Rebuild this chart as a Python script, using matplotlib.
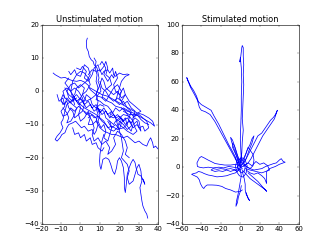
import matplotlib
matplotlib.use('Agg')
import matplotlib.pyplot as plt

# unstimulated cell tracks (x, y)
u1 = [(3.5, 16), (3, 15), (3.2, 13), (4, 12), (4.5, 10.5), (5.5, 9.5), (6.5, 9), (7, 8), (8.5, 7),
      (9, 5.5), (9.5, 4), (9, 3), (10, 1.5), (10.5, 0), (9, -1), (8, -2.5), (10, -3), (12, -4),
      (14, -4.5), (16, -6), (15, -7.5), (17, -8), (19, -7), (21, -8.5), (20, -10), (22, -11),
      (24, -10), (25, -8), (23, -6), (21, -5)]
u2 = [(-14, 5.5), (-13, 5), (-11.5, 4.5), (-10, 4), (-8, 4.2), (-6, 3.6), (-4, 3.2), (-2, 3),
      (0, 3.3), (2, 2.8), (4, 1.8), (5, 0.5), (7, -0.5), (9, -1.5), (12, -2), (14, -3), (16, -3.5),
      (18, -4.5), (21, -5), (24, -6), (27, -6.5), (30, -7.5), (33, -8.5), (36, -9.5), (38, -10.5),
      (37, -9), (35, -8), (32, -7), (29, -6.5), (26, -5.5), (23, -4.5), (20, -3.5), (17, -2.5),
      (14, -1.5), (11, -1), (8, 0), (5, 1)]
u3 = [(4, 5), (6, 6.5), (8, 6), (10, 6.5), (11, 5), (12, 6), (14, 6.5), (15, 5.5), (16.5, 7),
      (17, 5), (18, 4.5), (20, 5.5), (22, 5), (24, 5.2), (25, 5), (23, 4.5), (21, 3), (20, 1),
      (19, -1), (18, -3), (20, -4), (22, -3), (24, -5), (26, -6), (25, -8)]
u4 = [(-3, -2), (-5, -3), (-7, -4), (-8, -6), (-9, -8.5), (-10, -9.5), (-9, -11), (-10.5, -12.5),
      (-12, -13.5), (-13, -14.5), (-12, -15), (-10.5, -14), (-9.5, -13), (-8, -12.5), (-7, -11),
      (-6, -10), (-4, -9.5), (-2.5, -9), (-1, -10), (0.5, -11), (2, -10.5), (4, -12), (6, -11.5),
      (7, -13), (8, -12), (9, -10), (8, -8), (6, -7), (4, -8)]
u5 = [(8, -9), (10, -11), (12, -12), (14, -12.5), (16, -13), (18, -13), (20, -13.5), (22, -14),
      (24, -13.5), (26, -14.5), (28, -15.5), (30, -15), (32, -16), (34, -16.5), (35, -15),
      (36, -14), (37, -15.5), (37.5, -17), (38.5, -16.5), (40, -17.5)]
u6 = [(18, -8), (19, -10), (20, -12), (21, -14), (21.5, -16), (22, -18), (21, -20), (22.5, -21),
      (24, -22), (25, -24), (24, -26), (25, -28), (27, -27), (28, -25), (29, -23), (30, -22),
      (31, -24), (31.5, -27), (30.5, -29), (31, -31), (31.5, -33), (32, -34.5), (33, -36),
      (34, -37), (34.5, -38.2)]
u7 = [(12, -13), (11, -15), (10.5, -17), (10, -19), (9.8, -21), (10, -22.5), (10.5, -23.5),
      (11, -22), (11.5, -20.5), (13, -20), (14.5, -20.5), (15.5, -22), (16.5, -24), (17.5, -25),
      (18.5, -23), (19, -21), (20, -20), (21, -21), (22, -23), (22.5, -26), (22.5, -29),
      (23, -30.5), (23.5, -28), (24, -25), (25, -23), (26, -21.5), (27, -20.5), (28, -21.5),
      (28.5, -23), (29.5, -25), (31, -25.5), (32.5, -27), (33, -28), (32, -26.5)]
u8 = [(-8, 1), (-6, -1), (-4, -2), (-2, -1), (0, -2.5), (2, -3), (3, -1), (5, -2), (6, -4),
      (8, -5), (10, -5.5), (12, -6), (13, -8), (15, -9), (17, -10), (18, -9), (20, -8), (22, -7),
      (25, -7.5), (27, -9), (28, -11), (29, -12), (27, -13), (24, -12), (22, -11), (19, -11.5),
      (16, -10.5), (14, -11), (12, -9), (10, -8), (8, -7), (5, -6), (2, -5), (0, -4), (-2, -3),
      (-4, -1), (-6, 1), (-8, 2.5), (-6, 4)]
u9 = [(-3, -4), (-5, 0), (-4, 3), (-2, 5), (0, 6), (2, 5.5), (4, 4), (5, 2), (3, 0), (1, -1),
      (3, -3), (6, -2), (8, -1), (10, 2), (11, 4), (12, 3), (13, 1), (15, 0), (17, -1), (19, 0),
      (21, -2), (23, -1), (25, -3), (27, -4), (29, -5), (31, -6), (28, -7), (25, -7), (22, -6)]
u10 = [(2, -6), (4, -7), (6, -9), (7, -11), (6, -13), (7, -15), (9, -14), (11, -16), (13, -15),
       (15, -17), (14, -19), (16, -18), (18, -16), (17, -14), (19, -12), (21, -13), (23, -15),
       (24, -17), (23, -19), (25, -20)]
u11 = [(-8, -2), (-9, -1), (-10, -2.5), (-9, -4), (-7, -3), (-6, -5), (-4, -6), (-3, -8),
       (-1, -7), (0, -5), (-1, -3), (1, -1), (2, 1), (0, 2), (-2, 1), (-3, -1)]
u12 = [(-10, -3), (-8, -4), (-7, -2), (-5, -3.5), (-3, -2), (-1, -4), (1, -3), (3, -5), (5, -4),
       (7, -6), (9, -5), (11, -7), (13, -6), (15, -8), (17, -7), (19, -9), (21, -8), (23, -10),
       (25, -9), (27, -11), (29, -10), (31, -12), (30, -9), (28, -8), (26, -9.5), (24, -8),
       (22, -9), (20, -7.5), (18, -8), (16, -6), (14, -7), (12, -5), (10, -6.5), (8, -4), (6, -5),
       (4, -3), (2, -4), (0, -2), (-2, -3), (-4, -1)]
u13 = [(-2, 7), (0, 6.5), (1, 7.5), (3, 6), (2, 4), (4, 3), (6, 5), (7, 7), (9, 8), (10, 6),
       (12, 7.5), (13, 9), (14, 7), (13, 5), (15, 4), (16, 2), (14, 1), (12, 0), (11, -2), (13, -3),
       (15, -1), (17, 1), (19, 2), (21, 0), (20, -2), (22, -4), (24, -3), (26, -5), (28, -6),
       (27, -8)]
u14 = [(-9, -5), (-7, -6.5), (-6, -8), (-7, -9.5), (-5, -9), (-3, -7), (-2, -5), (-4, -4),
       (-6, -3), (-8, -2), (-9, 0), (-7, 1), (-5, 0), (-3, 1), (-1, 0), (1, -2), (2, -4), (1, -6),
       (-1, -7), (0, -9), (2, -8), (4, -6), (5, -8), (4, -10), (6, -10), (8, -9), (9, -7), (8, -5),
       (10, -4), (12, -4.5)]
u15 = [(14, -9), (16, -11), (18, -10), (20, -11.5), (21, -9.5), (23, -8), (24, -10.5), (26, -12),
       (27, -10), (29, -9), (30, -11), (32, -10.5), (33, -12), (35, -11), (34, -9), (32, -8),
       (30, -7), (27, -7.5), (25, -6), (22, -5), (20, -6), (18, -5), (16, -7)]
u16 = [(7, 10), (8, 9), (7.5, 7), (8.5, 5), (8, 3), (9, 1), (8, -1), (9, -3), (8.5, -5), (10, -7),
       (9, -9), (10.5, -11), (12, -10), (13, -12), (12, -14), (14, -15), (15, -13), (16, -11),
       (15, -9)]
u17 = [(-6, 6), (-5, 5), (-3, 6.5), (-2, 5), (0, 4.5), (1, 6), (2, 8), (4, 7), (5, 5), (3, 3),
       (1, 2), (-1, 1), (-3, 2.5), (-5, 2), (-7, 0), (-6, -2), (-4, -3), (-2, -2)]
u18 = [(-12, -1), (-11, -3), (-9, -2), (-8, -4.5), (-10, -6), (-9, -7.5), (-7, -7), (-5, -5),
       (-3, -6), (-1, -4.5), (1, -5.5), (3, -7), (5, -6.5), (7, -8), (9, -7.5), (11, -9), (13, -10),
       (15, -11.5), (17, -12), (19, -11), (20, -9), (22, -10), (24, -11.5), (26, -10.5), (27, -8),
       (29, -7), (31, -8.5), (33, -9.5), (35, -10)]
u19 = [(-4, -11), (-3, -13), (-1, -12.5), (0, -14), (2, -13), (3, -15), (5, -14), (6, -16),
       (8, -15.5), (9, -17), (11, -18), (12, -17)]
u20 = [(10, 8), (11, 9), (13, 7), (12, 5), (14, 3), (16, 5), (17, 4), (18, 6), (19, 4), (17, 2),
       (18, 0), (20, -1), (22, 1), (23, -1), (21, -3), (19, -2), (17, -3), (15, -2), (13, 0),
       (11, 1), (10, 3)]

# stimulated cell tracks
s1 = [(0, 0), (1, 5), (0.5, 12), (0, 20), (0.5, 30), (1, 40), (1, 50), (1.5, 60), (1, 70),
      (0, 77), (-0.5, 74), (0.5, 78), (1, 81), (1.5, 84), (2, 85.5), (3, 84), (3, 78), (3.5, 72),
      (3, 65), (3.5, 58), (3, 50), (2.5, 42), (2, 34), (3, 26), (2, 18), (1.5, 10), (0, 3)]
s2 = [(0, 0), (-3, 3), (-5, 7), (-8, 11), (-12, 16), (-17, 23), (-22, 30), (-27, 36), (-30, 40),
      (-35, 42), (-40, 44), (-43, 46), (-45, 50), (-48, 54), (-51, 57), (-53, 60), (-55, 63),
      (-54, 61), (-51, 56), (-47, 51), (-44, 47), (-42, 42), (-40, 40), (-36, 39), (-31, 37),
      (-26, 32), (-22, 27), (-18, 22), (-14, 17), (-10, 12), (-6, 7), (-3, 3)]
s3 = [(0, 0), (3, 3), (6, 6), (9, 10), (12, 14), (15, 18), (18, 22), (22, 24), (25, 27), (28, 30),
      (31, 33), (34, 35), (36, 37), (38, 40), (37, 38), (35, 34), (32, 31), (29, 28), (26, 25),
      (23, 22), (20, 18), (17, 14), (14, 10), (11, 6), (8, 3), (4, 1)]
s4 = [(0, 1), (-5, 2), (-10, 1.5), (-16, 1.5), (-21, 2), (-26, 2.6), (-30, 4), (-33, 5),
      (-37, 6.5), (-40, 7.5), (-42, 6.5), (-44.5, 3), (-44, 0.5), (-42, 0), (-38, -0.5), (-33, 0),
      (-28, -0.5), (-22, 0), (-17, -0.5), (-12, 0.5), (-7, 0), (-3, -0.5)]
s5 = [(0, -1), (-5, -4), (-10, -5), (-14, -6), (-19, -6.5), (-24, -6.8), (-29, -6), (-33, -5.5),
      (-37, -4.5), (-40, -3.5), (-43, -3), (-45, -4), (-48, -4.5), (-50, -5), (-47, -6), (-44, -7),
      (-42, -9), (-41, -11.5), (-39, -14), (-37.5, -15), (-36, -13.5), (-34, -12.5), (-29, -12.5),
      (-24, -12.7), (-19, -13.5), (-15, -15), (-10, -16), (-5, -17.5), (0, -17), (2, -16)]
s6 = [(0, -2), (1, -6), (0, -10), (-1, -14), (-2, -18), (-3, -21), (-4, -24), (-4.5, -27.5),
      (-3, -25), (-2, -21), (0, -17), (1, -13)]
s7 = [(2, -3), (4, -8), (5, -12), (5, -16), (6, -19), (7.5, -21), (9.5, -23.5), (8, -22), (6, -18)]
s8 = [(0, 0), (5, 1), (10, -1), (14, -2), (18, -1.5), (22, -1), (26, 0.5), (30, 1.5), (34, 2.5),
      (37, 3), (40, 5), (42, 6), (44, 4), (46, 3.5), (44, 3), (40, 2), (36, 0.5), (30, -1),
      (27, -3), (27, -7), (27, -11.5), (25, -8), (22, -6), (18, -4), (14, -5), (10, -4), (6, -2)]
s9 = [(2, -2), (6, -5), (10, -8), (14, -10), (18, -12), (22, -14), (26, -16), (27, -17),
      (23, -14), (18, -10), (13, -7), (8, -4)]
s10 = [(0, 0), (-2, 4), (-4, 8), (-6, 11), (-8, 14), (-8, 17), (-6, 15), (-4, 11), (-2, 6),
       (1, 4), (4, 7), (6, 10), (8, 14), (10, 12), (13, 9), (14, 5), (13, 1), (10, -1), (7, 0),
       (4, 2)]
s11 = [(0, 0), (2, 3), (-1, 4), (-3, 2), (-2, -2), (1, -4), (4, -3), (5, 0), (3, 4), (0, 6),
       (-3, 5), (-5, 1), (-4, -3), (-1, -6), (3, -7), (6, -4), (7, 1), (5, 5), (1, 7), (-2, 4),
       (0, 1), (2, -1), (-1, -2), (-3, 0), (-1, 2)]
s12 = [(0, 0), (-3, -3), (-6, -2), (-10, -3), (-14, -2), (-18, -3), (-22, -2.5), (-26, -3),
       (-30, -2), (-28, -1), (-24, -1.5), (-20, -1), (-15, -1.5), (-10, -1), (-5, -2), (-2, -1)]
s13 = [(0, 2), (-3, 6), (-5, 10), (-7, 14), (-9, 18), (-10, 21), (-8, 19), (-6, 15), (-4, 10),
       (-1, 5)]
s14 = [(3, 1), (8, 3), (12, 1), (16, 4), (20, 2), (24, 3), (28, 1), (30, -2), (26, -3), (22, -4),
       (16, -3), (10, -2), (5, -1)]
s15 = [(2, 2), (5, 8), (7, 12), (10, 16), (12, 20), (14, 22), (12, 17), (9, 12), (6, 6), (3, 2)]

unstim = [u1, u2, u3, u4, u5, u6, u7, u8, u9, u10, u11, u12, u13, u14, u15, u16, u17, u18, u19,
          u20]
stim = [s1, s2, s3, s4, s5, s6, s7, s8, s9, s10, s11, s12, s13, s14, s15]

plt.style.use('classic')
fig = plt.figure(figsize=(8, 6), dpi=41.5)

ax1 = fig.add_subplot(1, 2, 1)
for tr in unstim:
    ax1.plot([p[0] for p in tr], [p[1] for p in tr], 'b', lw=1.3)
ax1.set_xlim(-20, 40)
ax1.set_ylim(-40, 20)
ax1.set_title('Unstimulated motion')

ax2 = fig.add_subplot(1, 2, 2)
for tr in stim:
    ax2.plot([p[0] for p in tr], [p[1] for p in tr], 'b', lw=1.3)
ax2.set_xlim(-60, 60)
ax2.set_ylim(-40, 100)
ax2.set_title('Stimulated motion')

fig.savefig('out.png', dpi=41.5)
